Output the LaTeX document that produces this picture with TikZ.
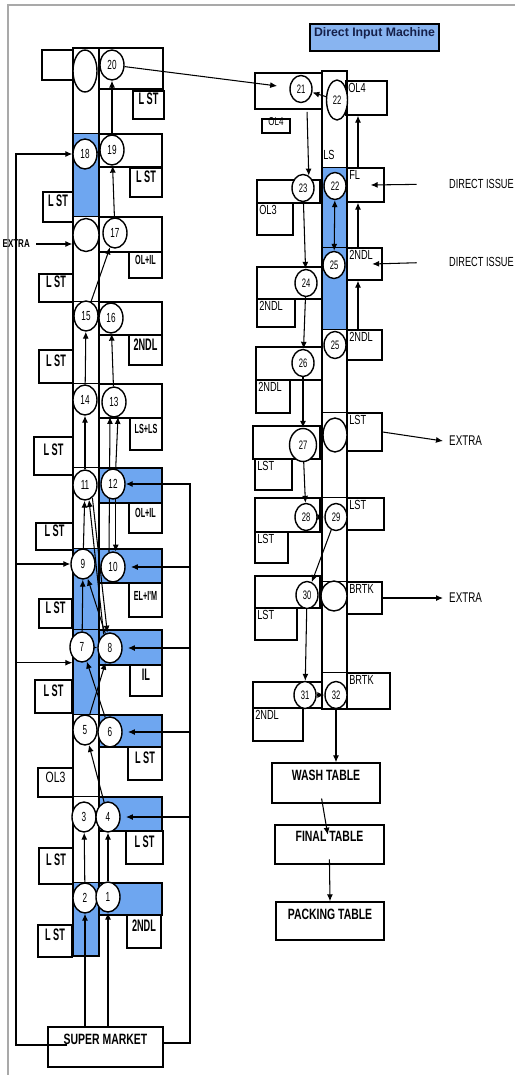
\documentclass[tikz,border=0pt]{standalone}
\usepackage{fontspec}
\setmainfont{Liberation Sans}[FakeStretch=0.7]
\newfontfamily\narrowfont{Liberation Sans}[FakeStretch=0.55]
\newfontfamily\numfont{Liberation Sans}[FakeStretch=0.62]
\newfontfamily\titlefont{Liberation Sans}
\usepackage{xcolor}
\definecolor{lineblue}{HTML}{6EA6F0}
\definecolor{titleblue}{HTML}{88B4F0}
\definecolor{titlenavy}{HTML}{15204A}
\definecolor{framegray}{HTML}{A9A9A9}
\usetikzlibrary{arrows.meta,fit,shapes.geometric,backgrounds}

\begin{document}
\begin{tikzpicture}[
  x=0.02cm, y=-0.02cm,
  font=\fontsize{7.5}{8}\selectfont,
  cell/.style={rectangle, draw, line width=0.8pt, inner sep=0pt, fit={#1}},
  lb/.style={font=\narrowfont\bfseries\fontsize{9.5}{10}\selectfont},
  lbs/.style={font=\narrowfont\bfseries\fontsize{7.5}{8}\selectfont},
  tl/.style={label={[anchor=north west, inner sep=1.5pt, font=\fontsize{7.5}{8}\selectfont]north west:#1}},
  tbl/.style={label={[anchor=north, inner sep=0pt, yshift=-4pt, font=\bfseries\fontsize{8.5}{9}\selectfont]north:#1}},
  stn/.style={ellipse, draw, line width=0.8pt, fill=white, inner sep=0pt, minimum width=0.48cm, minimum height=0.6cm, font=\numfont\fontsize{7.5}{8}\selectfont},
  stnr/.style={stn, minimum width=0.44cm, minimum height=0.54cm, font=\numfont\fontsize{7}{7}\selectfont},
  hole/.style={ellipse, draw, line width=0.8pt, fill=white, inner sep=0pt, font=\numfont\fontsize{7}{7}\selectfont},
  a/.style={-{Latex[length=1.4mm,width=1.2mm]}, line width=0.6pt},
  aa/.style={{Latex[length=1.4mm,width=1.2mm]}-{Latex[length=1.4mm,width=1.2mm]}, line width=0.6pt},
  ln/.style={line width=0.8pt},
]
\useasboundingbox (0,0) rectangle (515,1075);
\draw[framegray, line width=1.1pt] (8,1075) -- (8,5) -- (515,5);
% ---------------- left line: belt and station rows
\node[cell={(73,48) (99,956)}] (beltL) {};
\node[cell={(42,50) (73,80)}] (bl20) {};
\node[cell={(99,48) (163,89)}] (r20) {};
\node[cell={(99,134) (162,167)}] (r19) {};
\node[cell={(99,217) (162,252)}] (r17) {};
\node[cell={(99,302) (162,335)}] (r16) {};
\node[cell={(99,384) (162,418)}] (r13) {};
\node[cell={(99,468) (162,503)}] (r12) {};
\node[cell={(99,549) (162,583)}] (r10) {};
\node[cell={(99,630) (162,665)}] (r8) {};
\node[cell={(99,715) (162,747)}] (r6) {};
\node[cell={(99,797) (162,831)}] (r4) {};
\node[cell={(99,883) (162,915)}] (r1) {};
\foreach \r in {r19,r17,r16,r13,r12,r10,r8,r6,r4,r1}
  \draw[ln] (beltL.west |- \r.north) -- (\r.north west);
% ---------------- left line: operation cards
\node[cell={(133,91) (164,119)}, lb] (c20) {L ST};
\node[cell={(130,168) (162,197)}, lb] (c19) {L ST};
\node[cell={(129,252) (162,278)}, lbs] (c17) {OL+IL};
\node[cell={(129,335) (162,365)}, lb] (c16) {2NDL};
\node[cell={(130,418) (162,450)}, lbs] (c13) {LS+LS};
\node[cell={(129,503) (162,533)}, lbs] (c12) {OL+IL};
\node[cell={(129,583) (162,617)}, lbs] (c10) {EL+I'M};
\node[cell={(130,665) (162,696)}, lb] (c8) {IL};
\node[cell={(128,747) (162,780)}, lb] (c6) {L ST};
\node[cell={(126,831) (163,864)}, lb] (c4) {L ST};
\node[cell={(127,915) (161,948)}, lb] (c1) {2NDL};
\node[cell={(43,192) (73,222)}, lb] (c18) {L ST};
\node[cell={(39,274) (73,302)}, lb] (c17l) {L ST};
\node[cell={(39,350) (73,383)}, lb] (c15) {L ST};
\node[cell={(34,437) (73,475)}, lb] (c14) {L ST};
\node[cell={(36,523) (73,550)}, lb] (c11) {L ST};
\node[cell={(39,599) (72,628)}, lb] (c9) {L ST};
\node[cell={(35,680) (72,713)}, lb] (c7) {L ST};
\node[cell={(38,768) (73,797)}, font=\fontsize{8.5}{9}\selectfont] (c5) {OL3};
\node[cell={(39,848) (73,884)}, lb] (c3) {L ST};
\node[cell={(38,925) (72,957)}, lb] (c2) {L ST};
% ---------------- left line: stations
\node[hole, minimum width=0.48cm, minimum height=0.84cm] (e20) at (85,71) {};
\node[stn] (s20) at (112,65) {20};
\node[stn] (s18) at (85,154) {18};
\node[stn] (s19) at (112,150) {19};
\node[hole, minimum width=0.52cm, minimum height=0.66cm] (e17) at (86,235) {};
\node[stn] (s17) at (115,233) {17};
\node[stn] (s15) at (86,316) {15};
\node[stn] (s16) at (111,318) {16};
\node[stn] (s14) at (85,400) {14};
\node[stn] (s13) at (114,402) {13};
\node[stn] (s11) at (85,485) {11};
\node[stn] (s12) at (113,484) {12};
\node[stn] (s9) at (83,564) {9};
\node[stn] (s10) at (113,567) {10};
\node[stn] (s7) at (82,647) {7};
\node[stn] (s8) at (110,648) {8};
\node[stn] (s5) at (85,730) {5};
\node[stn] (s6) at (110,732) {6};
\node[stn] (s3) at (84,817) {3};
\node[stn] (s4) at (108,817) {4};
\node[stn] (s2) at (85,898) {2};
\node[stn] (s1) at (108,897) {1};
\node[anchor=east, font=\bfseries\fontsize{6.5}{7}\selectfont] (xtL) at (36,244) {EXTRA};
\node[cell={(48,1027) (163,1067)}, tbl={SUPER MARKET}] (sm) {};
\coordinate (smL) at (67,1045);
\coordinate (feedL) at (16,1045);
\coordinate (feedR) at (190,1043);
% ---------------- right line: direct input machine
\node[cell={(310,24) (439,51)}, fill=titleblue, line width=1pt, text=titlenavy, font=\titlefont\bfseries\fontsize{7}{8}\selectfont] (dim) {Direct Input Machine};
\node[cell={(322,71) (347,709)}] (beltR) {};
\node[cell={(255,73) (322,109)}] (b21) {};
\node[cell={(346,81) (387,115)}, tl=OL4] (k22) {};
\node[cell={(262,119) (290,133)}, font=\fontsize{6.5}{7}\selectfont] (k21) {OL4};
\node (lsl) at (329,155) {LS};
\node[cell={(257,180) (320,203)}] (b23) {};
\node[cell={(347,168) (384,202)}, tl=FL] (kfl) {};
\node[cell={(257,203) (293,235)}, tl=OL3] (k23) {};
\node[cell={(347,248) (382,280)}, tl=2NDL] (k25a) {};
\node[cell={(257,267) (322,299)}] (b24) {};
\node[cell={(257,299) (295,327)}, tl=2NDL] (k24) {};
\node[cell={(347,330) (382,360)}, tl=2NDL] (k25b) {};
\node[cell={(256,347) (322,380)}] (b26) {};
\node[cell={(256,380) (290,413)}, tl=2NDL] (k26) {};
\node[cell={(347,413) (382,451)}, tl=LST] (kx1) {};
\node[cell={(253,426) (320,459)}] (b27) {};
\node[cell={(255,459) (292,490)}, tl=LST] (k27) {};
\node[cell={(255,498) (320,532)}] (b28) {};
\node[cell={(347,498) (384,530)}, tl=LST] (k29) {};
\node[cell={(255,532) (288,563)}, tl=LST] (k28) {};
\node[cell={(255,576) (320,608)}] (b30) {};
\node[cell={(347,582) (382,614)}, tl=BRTK] (kx2) {};
\node[cell={(255,608) (297,640)}, tl=LST] (k30) {};
\node[cell={(253,682) (322,708)}] (b31) {};
\node[cell={(347,673) (390,709)}, tl=BRTK] (k32) {};
\node[cell={(253,708) (303,741)}, tl=2NDL] (k31) {};
\foreach \k in {kfl,k25a,k25b,kx1,k29,kx2,k32}
  \draw[ln] (beltR.west |- \k.north) -- (\k.north west);
% ---------------- right line: stations
\node[stnr] (s21) at (301,89) {21};
\node[hole, minimum width=0.42cm, minimum height=0.8cm] (e22) at (337,100) {22};
\node[stnr] (s23) at (303,188) {23};
\node[stnr] (s22) at (335,186) {22};
\node[stnr] (s25a) at (334,265) {25};
\node[stnr] (s24) at (306,283) {24};
\node[stnr] (s25b) at (335,345) {25};
\node[stnr] (s26) at (303,363) {26};
\node[hole, minimum width=0.48cm, minimum height=0.68cm] (ex1h) at (335,435) {};
\node[stnr, minimum width=0.54cm, minimum height=0.66cm] (s27) at (303,445) {27};
\node[stnr] (s28) at (306,517) {28};
\node[stnr] (s29) at (336,517) {29};
\node[stnr] (s30) at (307,595) {30};
\node[hole, minimum width=0.52cm, minimum height=0.6cm] (ex2h) at (334,596) {};
\node[stnr] (s31) at (305,695) {31};
\node[stnr] (s32) at (336,695) {32};
\node[anchor=west] (di1) at (443,184) {DIRECT ISSUE};
\node[anchor=west] (di2) at (443,262) {DIRECT ISSUE};
\node[anchor=west, font=\fontsize{8}{9}\selectfont] (xt1) at (443,441) {EXTRA};
\node[anchor=west, font=\fontsize{8}{9}\selectfont] (xt2) at (443,598) {EXTRA};
% ---------------- tables
\node[cell={(272,763) (380,803)}, tbl={WASH TABLE}] (wash) {};
\node[cell={(275,825) (384,864)}, tbl={FINAL TABLE}] (final) {};
\node[cell={(276,902) (384,940)}, tbl={PACKING TABLE}] (pack) {};
% ---------------- fills and flow (background)
\begin{scope}[on background layer]
  \fill[white] (0,0) rectangle (515,1075);
  \fill[lineblue] (beltL.west |- r19.north) rectangle (r17.north west);
  \fill[lineblue] (beltL.west |- r10.north) rectangle (r6.north west);
  \fill[lineblue] (beltL.west |- r1.north) rectangle (beltL.south -| r1.west);
  \foreach \r in {r12,r10,r8,r6,r4,r1}
    \fill[lineblue] (\r.north west) rectangle (\r.south east);
  \fill[lineblue] (beltR.west |- kfl.north) rectangle (k25b.north west);
  % left line flow
  \draw[a] (sm.north -| s2) -- (s2);
  \draw[a] (sm.north -| s1) -- (s1);
  \draw[a] (s2) -- (s3);
  \draw[a] (s1) -- (s4);
  \draw[a] (s3) -- (s4);
  \draw[a] (s4) -- (s5);
  \draw[a] (s5) -- (s6);
  \draw[a] (s5) -- (s8);
  \draw[a] (s6) -- (s7);
  \draw[a] (s7) -- (s8);
  \draw[a] (s7) -- (s9);
  \draw[a] (s8) -- (s9);
  \draw[a] (s8.115) -- (s11.-75);
  \draw[a] (s11.-60) -- (s8.100);
  \draw[a] (s9) -- (s11);
  \draw[a] (s12.-80) -- (s10.80);
  \draw[a] (s10.105) -- (s13.255);
  \draw[a] (s12.80) -- (s13.-75);
  \draw[a] (s11) -- (s14);
  \draw[a] (s14) -- (s15);
  \draw[a] (s13) -- (s16);
  \draw[a] (s16) -- (s15);
  \draw[a] (s15) -- (s17);
  \draw[a] (s17) -- (s19);
  \draw[a] (s18) -- (s19);
  \draw[a] (s19) -- (s20);
  \draw[a, shorten >=7pt] (s20) -- (s21);
  \draw[a] (xtL.east) -- (xtL.east -| e17.west);
  % feeds from the super market
  \draw[a] (smL) -- (feedL) |- (s18);
  \draw[a] (feedL |- s9) -- (s9);
  \draw[a] (feedL |- s7.south) -- (beltL.west |- s7.south);
  \draw[a] (sm.east |- feedR) -- (feedR) |- (s12);
  \foreach \s in {s10,s8,s6,s4}
    \draw[a] (feedR |- \s) -- ([xshift=3pt]\s.east);
  % right line flow
  \draw[a] (e22) -- (s21);
  \draw[a, shorten <=6pt] (s21.-65) -- (s23.65);
  \draw[a] (s23) -- (s24);
  \draw[a] (s24) -- (s26);
  \draw[a] (s26) -- (s27);
  \draw[a] (s27) -- (s28);
  \draw[a] (s28) -- (s29);
  \draw[a] (s29) -- (s30);
  \draw[a] (s30) -- (s31);
  \draw[a] (s31) -- (s32);
  \draw[aa] (s22) -- (s25a);
  \coordinate (riser) at (358,0);
  \draw[a] (kfl.north -| riser) -- (k22.south -| riser);
  \draw[a] (k25a.north -| riser) -- (kfl.south -| riser);
  \draw[a] (k25b.north -| riser) -- (k25a.south -| riser);
  \draw[a, shorten <=15pt] (di1.west) -- ([xshift=-8pt]kfl.east);
  \draw[a, shorten <=15pt] (di2.west) -- ([xshift=-6pt]k25a.east);
  \draw[a] (kx1.east) -- (xt1.west);
  \draw[a] (kx2.east) -- (xt2.west);
  \draw[a] (s32) -- (s32 |- wash.north);
  \draw[a, shorten <=-3pt, shorten >=-6pt] ([xshift=-2pt]wash.south) -- ([xshift=-2pt]final.north);
  \draw[a, shorten <=-3pt] (final.south) -- (pack.north);
\end{scope}
\end{tikzpicture}
\end{document}
